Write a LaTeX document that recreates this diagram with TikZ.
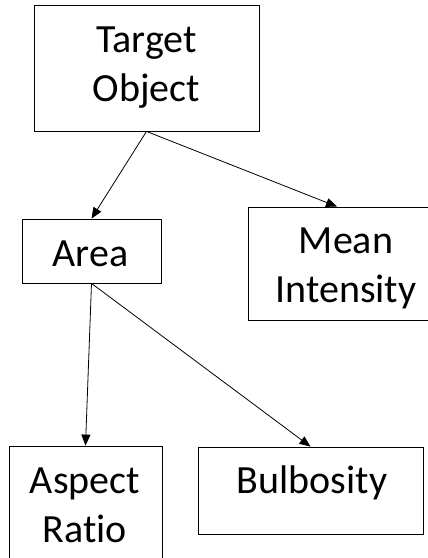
\documentclass[tikz,border=0pt]{standalone}
\usepackage{fontspec}
\setmainfont[Ligatures=NoCommon]{Carlito}
\usetikzlibrary{arrows.meta}
\begin{document}
\begin{tikzpicture}[x=1pt,y=-1pt,
  box/.style={draw=black,line width=0.8pt,inner sep=0pt},
  lbl/.style={anchor=base,inner sep=0pt,font=\fontsize{40}{49}\selectfont},
  conn/.style={line width=0.8pt,-{Triangle[length=11pt,width=9pt]}}]
\useasboundingbox (0,0) rectangle (428,558);
% boxes
\node[box,minimum width=225pt,minimum height=126pt] (target) at (146.5,68) {};
\node[box,minimum width=139pt,minimum height=64pt] (area) at (91.5,251) {};
\node[box,minimum width=198pt,minimum height=113pt] (mean) at (347,263.5) {};
\node[box,minimum width=153pt,minimum height=124pt] (aspect) at (85.5,508) {};
\node[box,minimum width=225pt,minimum height=87pt] (bulb) at (310.5,490.5) {};
% labels
\node[lbl] (targetlbl) at (146.5,52) {\begin{tabular}[t]{@{}c@{}}Target\\Object\end{tabular}};
\node[lbl] (arealbl) at (90.5,266.5) {Area};
\node[lbl] (meanlbl) at (346,253) {\begin{tabular}[t]{@{}c@{}}Mean\\Intensity\end{tabular}};
\node[lbl] (aspectlbl) at (85,493) {\begin{tabular}[t]{@{}c@{}}Aspect\\Ratio\end{tabular}};
\node[lbl] (bulblbl) at (312,493) {Bulbosity};
% connectors
\draw[conn] (target.south) -- (area.north);
\draw[conn] (target.south) -- ([xshift=-10pt]mean.north);
\draw[conn] (area.south) -- (aspect.north);
\draw[conn] (area.south) -- (bulb.north);
\end{tikzpicture}
\end{document}
